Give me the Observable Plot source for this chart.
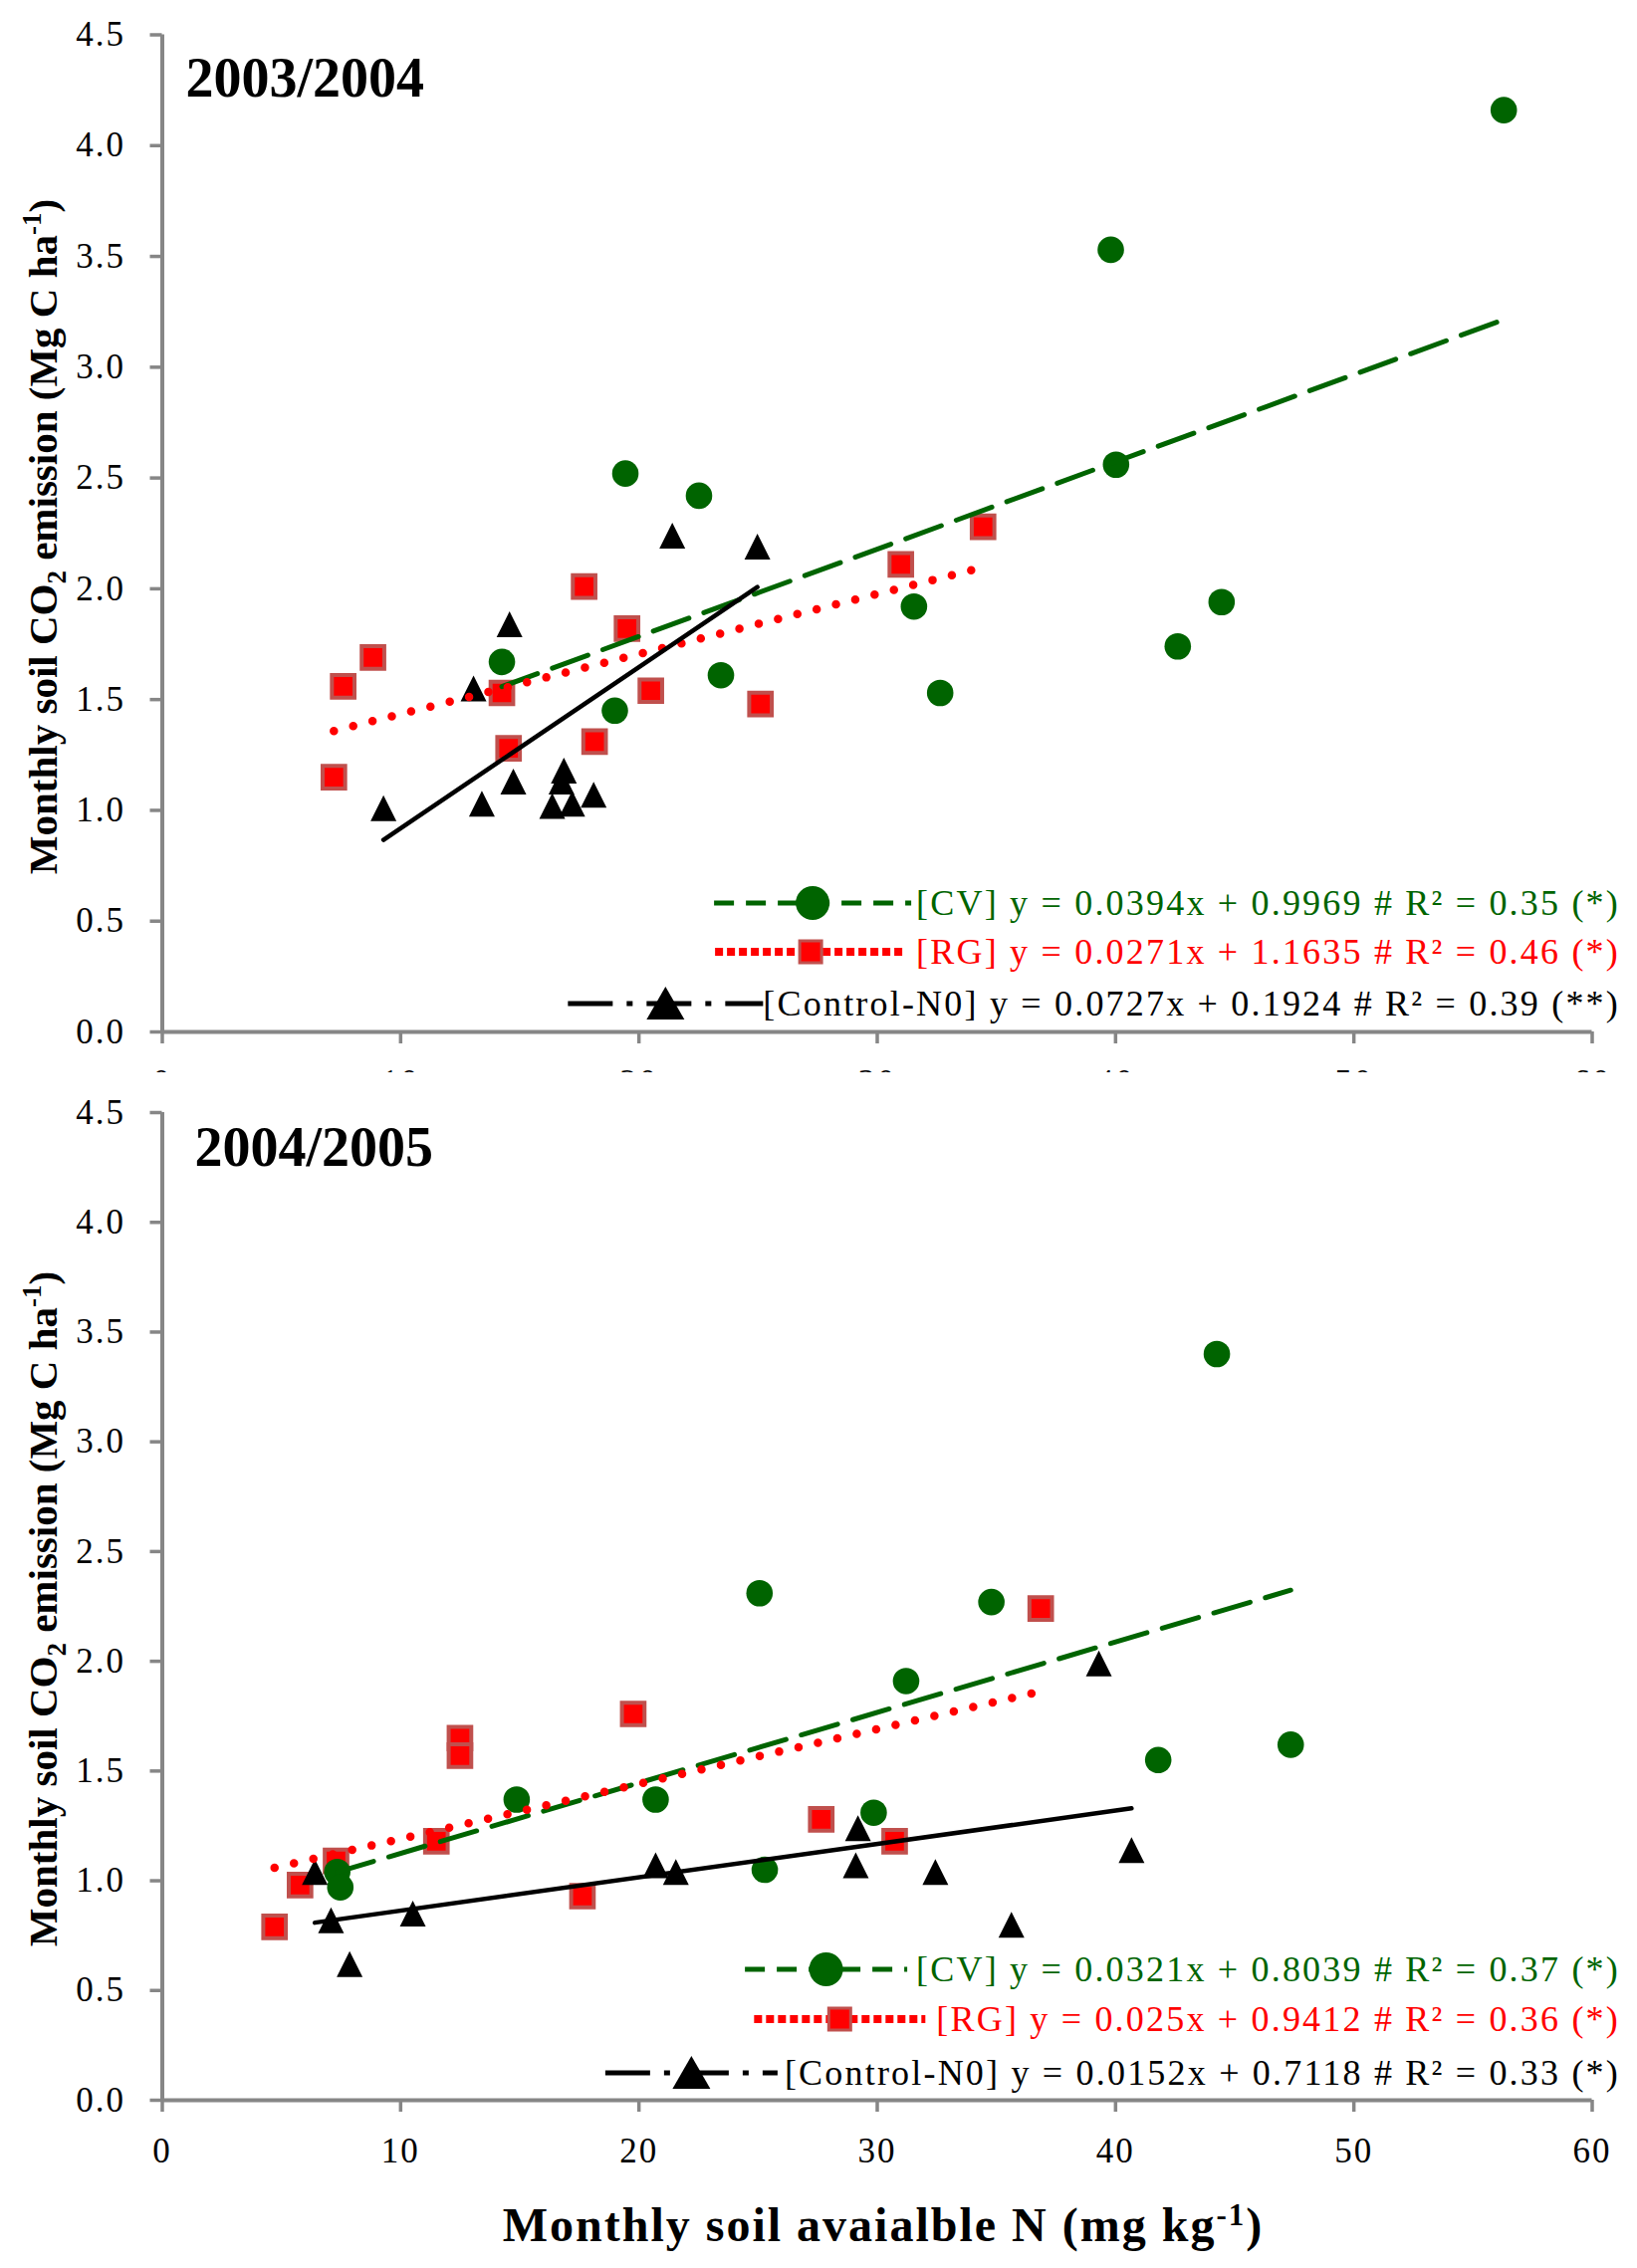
<!DOCTYPE html>
<html>
<head>
<meta charset="utf-8">
<script src="https://cdn.jsdelivr.net/npm/d3@7"></script>
<script src="https://cdn.jsdelivr.net/npm/@observablehq/plot@0.6"></script>
<style>
  body { margin: 0; background: white; }
  #chart { width: 1644px; }
</style>
</head>
<body>
<div id="chart"></div>
<script>
// axis ticks
const xTicks = [0, 10, 20, 30, 40, 50, 60];
const yTicks = [0, 0.5, 1, 1.5, 2, 2.5, 3, 3.5, 4, 4.5];

// 2003/2004
const cv03x = [14.25, 19.43, 22.52, 18.99, 23.44, 31.54, 32.64, 39.8, 40.02, 42.61, 44.45, 56.29];
const cv03y = [1.67, 2.52, 2.42, 1.45, 1.61, 1.92, 1.53, 3.53, 2.56, 1.74, 1.94, 4.16];
const rg03x = [7.2, 7.59, 8.84, 14.25, 14.53, 17.7, 18.14, 19.5, 20.5, 25.1, 30.99, 34.44];
const rg03y = [1.15, 1.56, 1.69, 1.53, 1.28, 2.01, 1.31, 1.82, 1.54, 1.48, 2.11, 2.28];
const n003x = [9.28, 13.06, 14.57, 13.41, 14.73, 16.36, 16.85, 16.75, 17.2, 18.1, 21.4, 24.97];
const n003y = [1.01, 1.55, 1.84, 1.03, 1.13, 1.02, 1.18, 1.13, 1.03, 1.07, 2.24, 2.19];
const slopes03 = [0.0394, 0.0271, 0.0727];
const intercepts03 = [0.9969, 1.1635, 0.1924];
const r2_03 = [0.35, 0.46, 0.39];
const sig03 = ["*", "*", "**"];

// 2004/2005
const cv04x = [7.34, 7.47, 14.87, 20.7, 25.06, 25.28, 29.85, 31.21, 34.79, 41.79, 44.25, 47.35];
const cv04y = [1.04, 0.97, 1.37, 1.37, 2.31, 1.05, 1.31, 1.91, 2.27, 1.55, 3.4, 1.62];
const rg04x = [4.71, 5.78, 7.29, 11.5, 12.49, 12.49, 17.63, 19.76, 27.65, 30.73, 36.86];
const rg04y = [0.79, 0.98, 1.09, 1.18, 1.65, 1.57, 0.93, 1.76, 1.28, 1.18, 2.24];
const n004x = [6.4, 7.08, 7.86, 10.51, 20.7, 21.55, 29.19, 29.1, 32.44, 35.63, 39.3, 40.67];
const n004y = [1.04, 0.82, 0.62, 0.85, 1.07, 1.04, 1.24, 1.07, 1.04, 0.8, 1.99, 1.14];
const slopes04 = [0.0321, 0.025, 0.0152];
const intercepts04 = [0.8039, 0.9412, 0.7118];
const r2_04 = [0.37, 0.36, 0.33];
const sig04 = ["*", "*", "*"];

const seriesNames = ["CV", "RG", "Control-N0"];
const colors = ["#006400", "#ff0000", "#000000"];
const gray = "#868686";
const squareEdge = "#c0504d";

// isosceles triangle (Excel style), width = height = 2r
const triangle = {
  draw(ctx, size) {
    const h = Math.sqrt(size / Math.PI);
    ctx.moveTo(0, -h);
    ctx.lineTo(h, h);
    ctx.lineTo(-h, h);
    ctx.closePath();
  }
};

const pts = (xs, ys) => xs.map((x, i) => ({x, y: ys[i]}));
const trend = (xs, k, slopes, intercepts) =>
  d3.extent(xs).map((x) => ({x, y: slopes[k] * x + intercepts[k]}));

function richText(sel, parts, small, shift) {
  parts.forEach(([s, kind]) => {
    const t = sel.append("tspan").text(s);
    if (kind === "sub") t.attr("dy", shift).attr("font-size", small);
    else if (kind === "sup") t.attr("dy", -shift * 1.8).attr("font-size", small);
    else if (kind === "backsub") t.attr("dy", -shift);
    else if (kind === "backsup") t.attr("dy", shift * 1.8);
  });
}

function makePanel(cfg) {
  const cv = pts(cfg.cvx, cfg.cvy), rg = pts(cfg.rgx, cfg.rgy), n0 = pts(cfg.n0x, cfg.n0y);
  const chart = Plot.plot({
    width: 1644,
    height: cfg.height,
    marginLeft: 162.5,
    marginRight: 45.5,
    marginTop: cfg.marginTop,
    marginBottom: cfg.marginBottom,
    x: {domain: [0, 60]},
    y: {domain: [0, 4.5]},
    style: {
      fontFamily: "'Liberation Serif', serif",
      fontSize: "35px",
      letterSpacing: "2px",
      background: "white",
      overflow: "hidden",
      color: "black"
    },
    marks: [
      Plot.axisY(yTicks, {tickSize: 12, tickPadding: 25, tickFormat: d3.format(".1f"),
        stroke: gray, strokeWidth: 3.5, fill: "black", label: null}),
      Plot.axisX(xTicks, {tickSize: 12, tickPadding: 26, tickFormat: d3.format("d"),
        stroke: gray, strokeWidth: 3.5, fill: "black", label: null}),
      Plot.ruleX([0], {stroke: gray, strokeWidth: 4}),
      Plot.ruleY([0], {stroke: gray, strokeWidth: 4}),
      Plot.dot(rg, {x: "x", y: "y", symbol: "square", r: 12.8, fill: colors[1], stroke: squareEdge, strokeWidth: 4}),
      Plot.dot(cv, {x: "x", y: "y", symbol: "circle", r: 13.3, fill: colors[0]}),
      Plot.dot(n0, {x: "x", y: "y", symbol: triangle, r: 13, fill: colors[2]}),
      Plot.line(trend(cfg.cvx, 0, cfg.slopes, cfg.intercepts), {x: "x", y: "y",
        stroke: colors[0], strokeWidth: 5, strokeDasharray: "38 16"}),
      Plot.line(trend(cfg.rgx, 1, cfg.slopes, cfg.intercepts), {x: "x", y: "y",
        stroke: colors[1], strokeWidth: 8.5, strokeDasharray: "0 20", strokeLinecap: "round"}),
      Plot.line(trend(cfg.n0x, 2, cfg.slopes, cfg.intercepts), {x: "x", y: "y",
        stroke: colors[2], strokeWidth: 4.5}),
      Plot.text([cfg.title], {frameAnchor: "top-left", dx: cfg.titleDx, dy: cfg.titleDy,
        textAnchor: "start", lineAnchor: "top", fontSize: 56, fontWeight: "bold"})
    ]
  });
  document.getElementById("chart").appendChild(chart);
  const svg = d3.select(chart);
  svg.selectAll('g[aria-label="text"] text').attr("letter-spacing", 0);

  // y axis title
  const yl = svg.append("text")
    .attr("transform", "translate(57,539) rotate(-90)")
    .attr("text-anchor", "middle")
    .attr("letter-spacing", 0)
    .attr("font-size", 41)
    .attr("font-weight", "bold");
  richText(yl, [["Monthly soil CO"], ["2", "sub"], [" emission (Mg C ha", "backsub"], ["-1", "sup"], [")", "backsup"]], 27, 9);

  // legend
  const g = svg.append("g").attr("font-size", 36).attr("letter-spacing", "2.2px");
  const keyDash = ["20 12", "8 4", "45 14 6 14"];
  const keyWidth = [5, 8, 5];
  cfg.legendY.forEach((ly, k) => {
    const label = `[${seriesNames[k]}] y = ${cfg.slopes[k]}x + ${cfg.intercepts[k]} # R\u00b2 = ${cfg.r2[k]} (${cfg.sig[k]})`;
    const t = g.append("text").attr("x", 1627).attr("y", ly)
      .attr("text-anchor", "end").attr("fill", colors[k]).text(label);
    const x0 = t.node().getBBox().x;
    const x2 = x0 - cfg.keyGap[k], x1 = x2 - cfg.keyLen[k], cy = ly - 12, cx = (x1 + x2) / 2;
    g.append("line").attr("x1", x1).attr("x2", x2).attr("y1", cy).attr("y2", cy)
      .attr("stroke", colors[k]).attr("stroke-width", keyWidth[k]).attr("stroke-dasharray", keyDash[k]);
    if (k === 0) {
      g.append("circle").attr("cx", cx).attr("cy", cy).attr("r", 17).attr("fill", colors[0]);
    } else if (k === 1) {
      g.append("rect").attr("x", cx - 11).attr("y", cy - 11).attr("width", 22).attr("height", 22)
        .attr("fill", colors[1]).attr("stroke", squareEdge).attr("stroke-width", 3);
    } else {
      g.append("path").attr("d", `M${cx},${cy - 17}L${cx + 19},${cy + 16}L${cx - 19},${cy + 16}Z`)
        .attr("fill", colors[2]);
    }
  });
  return svg;
}

makePanel({
  title: "2003/2004", titleDx: 23.5, titleDy: 22.5,
  height: 1077, marginTop: 34.5, marginBottom: 41,
  cvx: cv03x, cvy: cv03y, rgx: rg03x, rgy: rg03y, n0x: n003x, n0y: n003y,
  slopes: slopes03, intercepts: intercepts03, r2: r2_03, sig: sig03,
  legendY: [919, 968, 1020], keyLen: [198, 192, 196], keyGap: [5, 10, 0]
});

const bottom = makePanel({
  title: "2004/2005", titleDx: 32.5, titleDy: 13.5,
  height: 1201, marginTop: 40, marginBottom: 169,
  cvx: cv04x, cvy: cv04y, rgx: rg04x, rgy: rg04y, n0x: n004x, n0y: n004y,
  slopes: slopes04, intercepts: intercepts04, r2: r2_04, sig: sig04,
  legendY: [913, 963, 1017], keyLen: [163, 172, 173], keyGap: [9, 11, 7]
});

// x axis title
const xl = bottom.append("text")
  .attr("x", 887).attr("y", 1174)
  .attr("text-anchor", "middle")
  .attr("font-size", 48)
  .attr("font-weight", "bold");
richText(xl, [["Monthly soil avaialble N (mg kg"], ["-1", "sup"], [")", "backsup"]], 31, 9);
</script>
</body>
</html>
